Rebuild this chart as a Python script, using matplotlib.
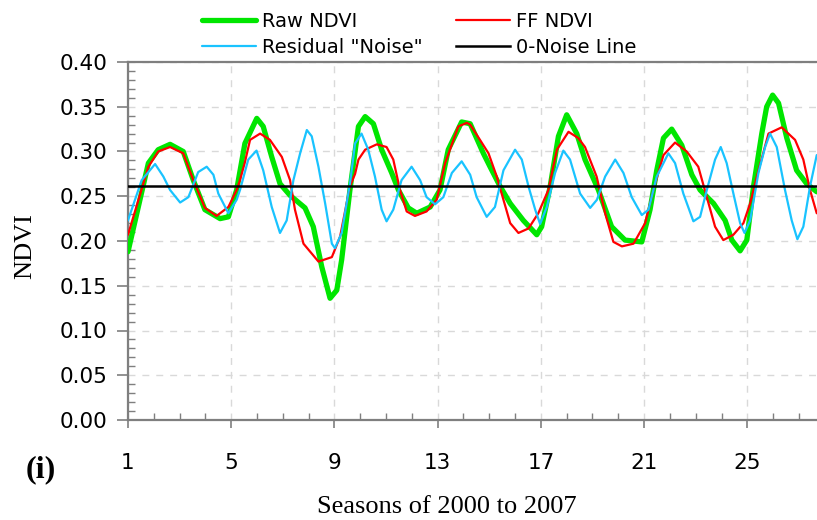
import numpy as np
import matplotlib.pyplot as plt
from matplotlib.ticker import MultipleLocator

# ================= data =================
raw_x = [1.0, 1.79, 2.17, 2.63, 3.14, 3.53, 3.98, 4.57, 4.89, 5.21, 5.53, 5.99, 6.24, 6.57, 6.89,
         7.28, 7.86, 8.18, 8.51, 8.83, 9.09, 9.28, 9.6, 9.93, 10.19, 10.51, 10.83, 11.22, 11.48,
         11.86, 12.19, 12.71, 13.09, 13.41, 13.93, 14.26, 14.77, 15.03, 15.42, 15.81, 16.32,
         16.84, 17.03, 17.36, 17.68, 18.0, 18.39, 18.71, 19.23, 19.74, 20.26, 20.91, 21.23,
         21.49, 21.75, 22.07, 22.46, 22.85, 23.17, 23.69, 24.14, 24.4, 24.72, 24.98, 25.24,
         25.56, 25.75, 25.98, 26.21, 26.53, 26.91, 27.3, 27.69]
raw_ndvi = [0.188, 0.287, 0.302, 0.308, 0.300, 0.268, 0.235, 0.225, 0.227, 0.257, 0.309, 0.337,
            0.328, 0.294, 0.264, 0.251, 0.237, 0.216, 0.171, 0.136, 0.145, 0.179, 0.257, 0.328,
            0.339, 0.331, 0.302, 0.276, 0.257, 0.237, 0.231, 0.238, 0.257, 0.302, 0.333, 0.331,
            0.298, 0.283, 0.261, 0.242, 0.223, 0.207, 0.216, 0.261, 0.317, 0.341, 0.320, 0.291,
            0.257, 0.216, 0.201, 0.199, 0.235, 0.279, 0.315, 0.325, 0.307, 0.274, 0.257, 0.242,
            0.223, 0.201, 0.189, 0.201, 0.261, 0.320, 0.350, 0.363, 0.354, 0.315, 0.279, 0.264,
            0.255]

ff_x = [1.0, 1.79, 2.17, 2.63, 3.14, 3.53, 3.98, 4.43, 4.89, 5.21, 5.34, 5.53, 5.73, 6.12, 6.5,
        6.96, 7.28, 7.47, 7.8, 8.38, 8.9, 9.22, 9.6, 9.8, 9.93, 10.19, 10.64, 11.02, 11.28,
        11.54, 11.8, 12.12, 12.57, 12.96, 13.29, 13.8, 14.13, 14.26, 14.64, 14.97, 15.29, 15.55,
        15.81, 16.13, 16.52, 16.9, 17.29, 17.62, 18.07, 18.45, 18.71, 19.16, 19.49, 19.81,
        20.14, 20.59, 21.04, 21.36, 21.75, 22.2, 22.65, 23.1, 23.43, 23.75, 24.07, 24.46,
        24.85, 25.11, 25.37, 25.82, 26.33, 26.85, 27.17, 27.43, 27.69]
ff_ndvi = [0.207, 0.283, 0.300, 0.305, 0.298, 0.268, 0.237, 0.228, 0.238, 0.257, 0.268, 0.288,
           0.313, 0.320, 0.313, 0.294, 0.268, 0.235, 0.197, 0.177, 0.182, 0.205, 0.261, 0.275,
           0.291, 0.302, 0.308, 0.305, 0.291, 0.257, 0.233, 0.228, 0.233, 0.246, 0.287, 0.328,
           0.332, 0.330, 0.313, 0.298, 0.272, 0.246, 0.220, 0.209, 0.214, 0.231, 0.257, 0.302,
           0.322, 0.315, 0.305, 0.272, 0.231, 0.199, 0.194, 0.197, 0.220, 0.257, 0.296, 0.310,
           0.300, 0.283, 0.249, 0.216, 0.201, 0.207, 0.220, 0.242, 0.272, 0.320, 0.327, 0.313,
           0.291, 0.257, 0.231]

res_x = [1.0, 1.53, 2.05, 2.37, 2.63, 3.02, 3.34, 3.72, 4.05, 4.31, 4.5, 4.89, 5.21, 5.34, 5.66,
         5.98, 6.24, 6.57, 6.89, 7.15, 7.41, 7.67, 7.93, 8.12, 8.38, 8.64, 8.9, 9.02, 9.28, 9.6,
         9.8, 10.05, 10.31, 10.57, 10.83, 11.02, 11.28, 11.6, 11.99, 12.32, 12.57, 12.9, 13.22,
         13.55, 13.93, 14.26, 14.51, 14.9, 15.22, 15.55, 16.0, 16.26, 16.52, 16.78, 16.97,
         17.23, 17.55, 17.87, 18.13, 18.52, 18.91, 19.17, 19.49, 19.88, 20.2, 20.52, 20.91,
         21.17, 21.49, 21.94, 22.2, 22.52, 22.91, 23.17, 23.43, 23.75, 23.97, 24.2, 24.46,
         24.72, 24.89, 25.11, 25.43, 25.69, 25.88, 26.14, 26.46, 26.72, 26.94, 27.17, 27.43,
         27.69]
res_ndvi = [0.223, 0.268, 0.286, 0.272, 0.257, 0.243, 0.249, 0.277, 0.283, 0.274, 0.253, 0.231,
            0.246, 0.257, 0.291, 0.301, 0.279, 0.238, 0.209, 0.223, 0.268, 0.298, 0.324, 0.317,
            0.283, 0.242, 0.197, 0.192, 0.209, 0.264, 0.309, 0.320, 0.302, 0.272, 0.235, 0.222,
            0.235, 0.268, 0.283, 0.268, 0.249, 0.241, 0.249, 0.276, 0.289, 0.274, 0.249, 0.227,
            0.238, 0.279, 0.302, 0.291, 0.261, 0.235, 0.219, 0.238, 0.276, 0.301, 0.291, 0.253,
            0.237, 0.246, 0.272, 0.291, 0.276, 0.249, 0.229, 0.235, 0.272, 0.298, 0.287, 0.253,
            0.222, 0.227, 0.257, 0.291, 0.305, 0.287, 0.253, 0.220, 0.209, 0.223, 0.276, 0.305,
            0.320, 0.305, 0.257, 0.223, 0.202, 0.216, 0.261, 0.296]

noise_level = 0.262
season_ticks = [1, 5, 9, 13, 17, 21, 25]

# ================= plot =================
fig = plt.figure(figsize=(8.17, 5.2), dpi=100)
ax = fig.add_axes([128 / 817, 100 / 520, 689 / 817, 358 / 520])

line_kw = dict(solid_joinstyle='round', solid_capstyle='round')
h_raw, = ax.plot(raw_x, raw_ndvi, color='#00e600', linewidth=3.8, label='Raw NDVI',
                 zorder=3, **line_kw)
h_ff, = ax.plot(ff_x, ff_ndvi, color='#ff0000', linewidth=1.6, label='FF NDVI',
                zorder=4, **line_kw)
h_res, = ax.plot(res_x, res_ndvi, color='#19c3ff', linewidth=1.6, label='Residual "Noise"',
                 zorder=5, **line_kw)
h_zero = ax.axhline(noise_level, color='black', linewidth=1.8, label='0-Noise Line', zorder=6)

ax.set_xlim(1, 27.7)
ax.set_ylim(0, 0.40)
ax.set_xticks(season_ticks)
ax.xaxis.set_minor_locator(MultipleLocator(1))
ax.yaxis.set_major_locator(MultipleLocator(0.05))
ax.yaxis.set_minor_locator(MultipleLocator(0.01))
ax.yaxis.set_major_formatter(plt.FormatStrFormatter('%.2f'))

ax.grid(which='major', color='#d9d9d9', linestyle=(0, (5, 5)), linewidth=1.0)
ax.set_axisbelow(True)

for side in ['left', 'bottom', 'top']:
    ax.spines[side].set_color('#7f7f7f')
    ax.spines[side].set_linewidth(1.6)
ax.spines['right'].set_visible(False)

ax.tick_params(axis='x', which='major', direction='out', length=6, width=1.2,
               color='#7f7f7f', labelsize=15.5, pad=18)
ax.tick_params(axis='y', which='major', direction='out', length=8, width=1.2,
               color='#7f7f7f', labelsize=15.5, pad=7)
ax.tick_params(which='minor', direction='in', length=5, width=1.0, color='#7f7f7f')

# legend across the top (column-major order -> rows: Raw/FF, Residual/0-Noise)
fig.legend([h_raw, h_res, h_ff, h_zero],
           ['Raw NDVI', 'Residual "Noise"', 'FF NDVI', '0-Noise Line'],
           loc='upper left', bbox_to_anchor=(202 / 817, 1 - 12 / 520), ncol=2,
           frameon=False, fontsize=14, handlelength=2.8, handletextpad=0.3,
           columnspacing=1.7, labelspacing=0.35, borderpad=0, borderaxespad=0)

fig.text(25 / 817, 1 - 246 / 520, 'NDVI', rotation=90, ha='center', va='center',
         fontsize=19, family='Liberation Serif')
fig.text(447 / 817, 1 - 507 / 520, 'Seasons of 2000 to 2007', ha='center', va='center',
         fontsize=19, family='Liberation Serif')
fig.text(41 / 817, 1 - 470 / 520, '(i)', ha='center', va='center', fontsize=23,
         family='Liberation Serif', fontweight='bold')

fig.savefig('out.png', dpi=100)
